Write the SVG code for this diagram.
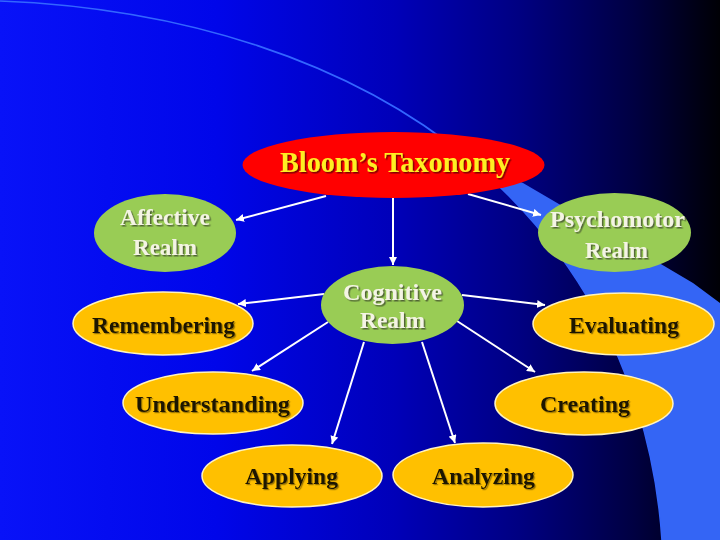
<svg xmlns="http://www.w3.org/2000/svg" width="720" height="540" viewBox="0 0 720 540">
<style>
.lbl{font-family:"Liberation Serif","Times New Roman",serif;font-weight:bold;}
.conn line{stroke:#ffffff;stroke-width:2;marker-end:url(#arr);}
.green{fill:#99cc55;}
.orange{fill:#ffc000;stroke:#fff4c0;stroke-width:1.5;}
.gtxt{fill:#f4f4e4;font-size:23px;filter:url(#sh);}
.otxt{fill:#1a1200;font-size:24px;filter:url(#sh2);}
</style>
<defs>
<linearGradient id="bg" x1="0" y1="0" x2="1" y2="0">
<stop offset="0" stop-color="#0812f8"/>
<stop offset="0.3" stop-color="#0006ea"/>
<stop offset="0.55" stop-color="#0000b8"/>
<stop offset="0.72" stop-color="#000082"/>
<stop offset="0.88" stop-color="#000042"/>
<stop offset="1" stop-color="#000005"/>
</linearGradient>
<marker id="arr" markerUnits="userSpaceOnUse" markerWidth="10" markerHeight="8" refX="8" refY="4" orient="auto">
<path d="M0,0 L8,4 L0,8 Z" fill="#ffffff"/>
</marker>
<filter id="sh" x="-10%" y="-20%" width="130%" height="150%">
<feDropShadow dx="1.5" dy="1.5" stdDeviation="0.4" flood-color="#4a5a30" flood-opacity="0.9"/>
</filter>
<filter id="sh2" x="-10%" y="-20%" width="130%" height="150%">
<feDropShadow dx="1.2" dy="1.2" stdDeviation="0.4" flood-color="#806000" flood-opacity="0.8"/>
</filter>
<filter id="sh3" x="-10%" y="-20%" width="130%" height="150%">
<feDropShadow dx="1.5" dy="1.5" stdDeviation="0.4" flood-color="#700000" flood-opacity="0.9"/>
</filter>
</defs>
<rect x="0" y="0" width="720" height="540" fill="url(#bg)"/>
<path d="M0,1 C180,8 350,60 470,160 C560,235 650,360 662,540" fill="none" stroke="#3366ff" stroke-width="1.6"/>
<path d="M470,160 C560,235 650,360 662,540 L720,540 L720,303 L693,283 Q600,228 523,183 Z" fill="#3465f5"/>

<g id="connectors" class="conn">
<line x1="326" y1="196" x2="236" y2="220"/>
<line x1="468" y1="194" x2="541" y2="215"/>
<line x1="393" y1="198" x2="393" y2="265"/>
<line x1="324" y1="294" x2="238" y2="304"/>
<line x1="462" y1="295" x2="545" y2="305"/>
<line x1="328" y1="322" x2="252" y2="371"/>
<line x1="457" y1="321" x2="535" y2="372"/>
<line x1="364" y1="342" x2="332" y2="444"/>
<line x1="422" y1="342" x2="455" y2="443"/>
</g>

<g id="bloom">
<ellipse cx="393.5" cy="165" rx="151" ry="33" fill="#ff0000"/>
<text class="lbl" x="280" y="172" font-size="29" fill="#ffee22" textLength="230" lengthAdjust="spacingAndGlyphs" filter="url(#sh3)">Bloom’s Taxonomy</text>
</g>
<g id="affective">
<ellipse class="green" cx="165" cy="233" rx="71" ry="39"/>
<text class="lbl gtxt" x="120" y="225" textLength="90" lengthAdjust="spacingAndGlyphs">Affective</text>
<text class="lbl gtxt" x="133" y="255" textLength="64" lengthAdjust="spacingAndGlyphs">Realm</text>
</g>
<g id="psychomotor">
<ellipse class="green" cx="614.5" cy="232.5" rx="76.5" ry="39.5"/>
<text class="lbl gtxt" x="550" y="227" textLength="135" lengthAdjust="spacingAndGlyphs">Psychomotor</text>
<text class="lbl gtxt" x="585" y="258" textLength="63" lengthAdjust="spacingAndGlyphs">Realm</text>
</g>
<g id="cognitive">
<ellipse class="green" cx="392.5" cy="305" rx="71.5" ry="39"/>
<text class="lbl gtxt" x="343" y="300" textLength="99" lengthAdjust="spacingAndGlyphs">Cognitive</text>
<text class="lbl gtxt" x="360" y="328" textLength="65" lengthAdjust="spacingAndGlyphs">Realm</text>
</g>
<g id="remembering">
<ellipse class="orange" cx="163" cy="323.5" rx="90" ry="31.5"/>
<text class="lbl otxt" x="92" y="333" textLength="143" lengthAdjust="spacingAndGlyphs">Remembering</text>
</g>
<g id="evaluating">
<ellipse class="orange" cx="623.5" cy="324" rx="90.5" ry="31"/>
<text class="lbl otxt" x="569" y="333" textLength="110" lengthAdjust="spacingAndGlyphs">Evaluating</text>
</g>
<g id="understanding">
<ellipse class="orange" cx="213" cy="403" rx="90" ry="31"/>
<text class="lbl otxt" x="135" y="412" textLength="155" lengthAdjust="spacingAndGlyphs">Understanding</text>
</g>
<g id="creating">
<ellipse class="orange" cx="584" cy="403.5" rx="89" ry="31.5"/>
<text class="lbl otxt" x="540" y="412" textLength="90" lengthAdjust="spacingAndGlyphs">Creating</text>
</g>
<g id="applying">
<ellipse class="orange" cx="292" cy="476" rx="90" ry="31"/>
<text class="lbl otxt" x="245" y="484" textLength="93" lengthAdjust="spacingAndGlyphs">Applying</text>
</g>
<g id="analyzing">
<ellipse class="orange" cx="483" cy="475" rx="90" ry="32"/>
<text class="lbl otxt" x="432" y="484" textLength="103" lengthAdjust="spacingAndGlyphs">Analyzing</text>
</g>
</svg>
